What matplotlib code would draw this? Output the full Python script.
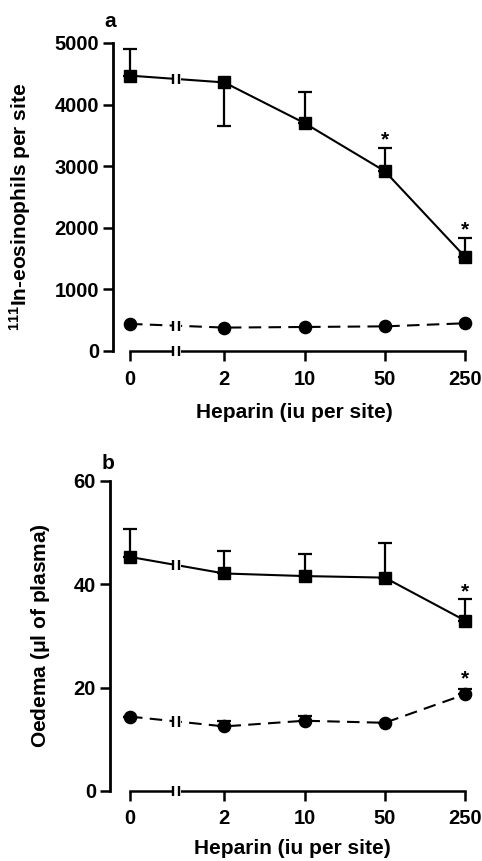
import matplotlib
matplotlib.use("Agg")
import matplotlib.pyplot as plt
import numpy as np

plt.rcParams['font.family'] = ['Liberation Sans', 'DejaVu Sans']
plt.rcParams['font.weight'] = 'bold'
plt.rcParams['mathtext.default'] = 'regular'

# ---- data ----
doses = ["0", "2", "10", "50", "250"]

eos_heparin = [4470, 4360, 3700, 2920, 1530]
eos_heparin_err = [440, 700, 510, 380, 300]
eos_heparin_err_dir = ["up", "down", "up", "up", "up"]
eos_control = [440, 380, 390, 400, 450]
eos_sig = [False, False, False, True, True]

oed_heparin = [45.3, 42.1, 41.6, 41.3, 33.0]
oed_heparin_err = [5.4, 4.3, 4.2, 6.7, 4.2]
oed_control = [14.4, 12.5, 13.6, 13.2, 18.7]
oed_control_err = [0.0, 1.0, 0.9, 0.0, 1.0]
oed_heparin_sig = [False, False, False, False, True]
oed_control_sig = [False, False, False, False, True]

eos_yticks = [0, 1000, 2000, 3000, 4000, 5000]
oed_yticks = [0, 20, 40, 60]

# ---- layout ----
W, H = 482, 861
fig = plt.figure(figsize=(W / 100, H / 100), dpi=100)

xpos = np.array([-0.175, 1, 2, 3, 4])
xbreak = 0.41
TICK_FS = 14.5
LAB_FS = 15


def px_axes(left, right, top, bottom):
    return fig.add_axes([left / W, (H - bottom) / H, (right - left) / W, (bottom - top) / H])


def break_marks(ax, x, y, dy):
    ax.plot([x - 0.045, x + 0.045], [y, y], color='white', lw=3, zorder=4, clip_on=False,
            solid_capstyle='butt')
    for dx in (-0.045, 0.025):
        ax.plot([x + dx, x + dx], [y - dy, y + dy], color='black', lw=1.7, zorder=5,
                clip_on=False, solid_capstyle='butt')


def style_axes(ax, ymax, yticks, axis_left_px, xpad, xlabpad):
    ax.set_ylim(0, ymax)
    ax.set_xlim(-0.175 - (130 - axis_left_px) / 80, 4 + 10 / 80)
    for s in ('top', 'right'):
        ax.spines[s].set_visible(False)
    ax.spines['left'].set_linewidth(2.0)
    ax.spines['bottom'].set_linewidth(1.8)
    ax.spines['left'].set_bounds(0, ymax)
    ax.spines['bottom'].set_bounds(xpos[0], xpos[-1])
    ax.set_yticks(yticks)
    ax.set_yticklabels([str(t) for t in yticks])
    ax.set_xticks(xpos)
    ax.set_xticklabels(doses)
    ax.tick_params(axis='y', length=7, width=1.8, pad=3, labelsize=TICK_FS)
    ax.tick_params(axis='x', length=7, width=1.8, pad=xpad, labelsize=TICK_FS)
    ax.set_xlabel('Heparin (iu per site)', fontsize=LAB_FS, fontweight='bold', labelpad=xlabpad)


sq = dict(marker='s', markersize=8.8, color='black', lw=1.5, zorder=3, clip_on=False)
ci = dict(marker='o', markersize=8.8, color='black', lw=1.5, zorder=3, clip_on=False,
          dashes=(6, 3.5))
eb = dict(fmt='none', ecolor='black', elinewidth=1.6, capsize=5, capthick=1.6, zorder=2,
          clip_on=False)

# ---- panel a ----
ax1 = px_axes(113, 475, 43, 351)
style_axes(ax1, 5000, eos_yticks, 113, 7, 10)
ax1.plot(xpos, eos_heparin, **sq)
ax1.plot(xpos, eos_control, **ci)
for x, y, e, d in zip(xpos, eos_heparin, eos_heparin_err, eos_heparin_err_dir):
    lo, hi = ([0], [e]) if d == 'up' else ([e], [0])
    ax1.errorbar([x], [y], yerr=[lo, hi], **eb)
for x, y, e, s in zip(xpos, eos_heparin, eos_heparin_err, eos_sig):
    if s:
        ax1.text(x, y + e + 40, '*', ha='center', va='baseline', fontsize=15, fontweight='bold')
ya = np.interp(xbreak, xpos[:2], eos_heparin[:2])
break_marks(ax1, xbreak, ya, 85)
yc = np.interp(xbreak, xpos[:2], eos_control[:2])
break_marks(ax1, xbreak, yc, 85)
break_marks(ax1, xbreak, 0, 85)
ax1.set_ylabel(r'$^{111}$In-eosinophils per site', fontsize=LAB_FS, fontweight='bold')
ax1.yaxis.set_label_coords(-0.221, 0.4675)
ax1.text(-0.008, 1.04, 'a', transform=ax1.transAxes, fontsize=LAB_FS, fontweight='bold',
         ha='center', va='bottom')

# ---- panel b ----
ax2 = px_axes(110, 475, 481, 791)
style_axes(ax2, 60, oed_yticks, 110, 6, 8)
ax2.plot(xpos, oed_heparin, **sq)
ax2.plot(xpos, oed_control, **ci)
ax2.errorbar(xpos, oed_heparin, yerr=[np.zeros(5), oed_heparin_err], **eb)
ax2.errorbar(xpos, oed_control, yerr=[np.zeros(5), oed_control_err], **eb)
for x, y, e, s in zip(xpos, oed_heparin, oed_heparin_err, oed_heparin_sig):
    if s:
        ax2.text(x, y + e + 0.3, '*', ha='center', va='baseline', fontsize=15, fontweight='bold')
for x, y, e, s in zip(xpos, oed_control, oed_control_err, oed_control_sig):
    if s:
        ax2.text(x, y + e + 1.0, '*', ha='center', va='baseline', fontsize=15, fontweight='bold')
ya = np.interp(xbreak, xpos[:2], oed_heparin[:2])
break_marks(ax2, xbreak, ya, 1.0)
yc = np.interp(xbreak, xpos[:2], oed_control[:2])
break_marks(ax2, xbreak, yc, 1.0)
break_marks(ax2, xbreak, 0, 1.0)
ax2.set_ylabel(r'Oedema ($\mu$l of plasma)', fontsize=LAB_FS, fontweight='bold')
ax2.yaxis.set_label_coords(-0.159, 0.503)
ax2.text(-0.005, 1.025, 'b', transform=ax2.transAxes, fontsize=LAB_FS, fontweight='bold',
         ha='center', va='bottom')

fig.savefig('out.png', dpi=100)
